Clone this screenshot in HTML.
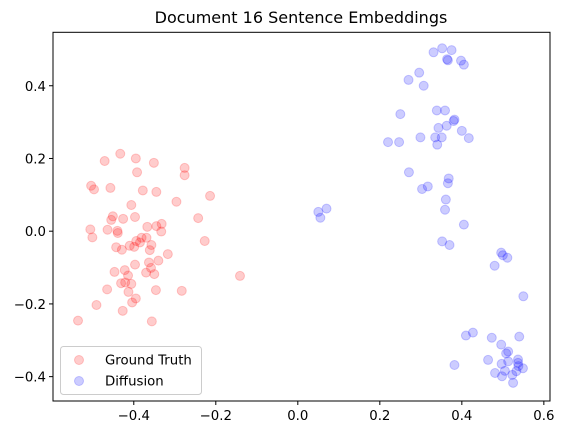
<!DOCTYPE html>
<html><head><meta charset="utf-8"><style>
body{margin:0;background:#fff;}
svg{display:block;font-family:"DejaVu Sans","Liberation Sans",sans-serif;}
</style></head><body>
<svg id="chart" width="567" height="435" viewBox="0 0 567 435">
<text x="301" y="23" text-anchor="middle" font-size="16" fill="#000">Document 16 Sentence Embeddings</text>
<g id="marks"></g>
<g id="axes"></g>
<g>
<rect x="60.5" y="346.5" width="141" height="48" rx="3" fill="#fff" fill-opacity="0.8" stroke="#ccc"/>
<circle cx="79" cy="360" r="4.5" fill="rgba(255,0,0,0.2)" stroke="rgba(255,0,0,0.2)"/>
<text x="105" y="364.5" font-size="13.3">Ground Truth</text>
<circle cx="79" cy="381" r="4.5" fill="rgba(0,0,255,0.2)" stroke="rgba(0,0,255,0.2)"/>
<text x="105" y="385.5" font-size="13.3">Diffusion</text>
</g>
</svg>
<script>
const gtX=[-0.471,-0.433,-0.395,-0.351,-0.276,-0.276,-0.392,-0.504,-0.497,-0.457,-0.378,-0.345,-0.296,-0.214,-0.406,-0.451,-0.455,-0.426,-0.397,-0.243,-0.506,-0.501,-0.464,-0.440,-0.439,-0.367,-0.345,-0.332,-0.333,-0.227,-0.443,-0.429,-0.410,-0.399,-0.394,-0.385,-0.381,-0.369,-0.357,-0.361,-0.317,-0.397,-0.363,-0.340,-0.358,-0.370,-0.350,-0.447,-0.422,-0.414,-0.431,-0.421,-0.406,-0.465,-0.413,-0.346,-0.283,-0.141,-0.395,-0.404,-0.491,-0.427,-0.536,-0.356];
const gtY=[0.193,0.213,0.200,0.188,0.174,0.154,0.162,0.125,0.115,0.119,0.112,0.108,0.081,0.097,0.072,0.041,0.031,0.034,0.039,0.036,0.005,-0.017,0.004,0.001,-0.005,0.012,0.014,0.020,-0.001,-0.027,-0.044,-0.051,-0.040,-0.043,-0.027,-0.031,-0.018,-0.018,-0.038,-0.052,-0.063,-0.092,-0.086,-0.081,-0.101,-0.114,-0.118,-0.112,-0.107,-0.122,-0.143,-0.141,-0.145,-0.160,-0.167,-0.162,-0.164,-0.123,-0.185,-0.196,-0.203,-0.219,-0.246,-0.248];
const dfX=[0.331,0.352,0.375,0.364,0.366,0.398,0.405,0.296,0.270,0.307,0.250,0.339,0.359,0.382,0.380,0.343,0.363,0.400,0.417,0.220,0.247,0.299,0.335,0.351,0.340,0.271,0.368,0.366,0.303,0.317,0.361,0.359,0.405,0.352,0.370,0.496,0.500,0.511,0.480,0.550,0.410,0.427,0.473,0.540,0.496,0.513,0.508,0.382,0.464,0.497,0.513,0.537,0.537,0.538,0.549,0.533,0.481,0.505,0.498,0.523,0.525,0.050,0.055,0.070];
const dfY=[0.492,0.503,0.498,0.473,0.470,0.469,0.458,0.436,0.416,0.400,0.322,0.332,0.332,0.307,0.303,0.284,0.290,0.276,0.256,0.245,0.245,0.258,0.258,0.258,0.238,0.162,0.145,0.132,0.116,0.123,0.087,0.059,0.018,-0.028,-0.038,-0.059,-0.066,-0.073,-0.095,-0.179,-0.287,-0.279,-0.293,-0.290,-0.312,-0.331,-0.336,-0.368,-0.354,-0.365,-0.358,-0.353,-0.362,-0.371,-0.377,-0.385,-0.390,-0.384,-0.399,-0.395,-0.417,0.053,0.037,0.062];
const xTicks=[-0.4,-0.2,0.0,0.2,0.4,0.6];
const xTickLabels=["\u22120.4","\u22120.2","0.0","0.2","0.4","0.6"];
const yTicks=[-0.4,-0.2,0.0,0.2,0.4];
const yTickLabels=["\u22120.4","\u22120.2","0.0","0.2","0.4"];

const NS="http://www.w3.org/2000/svg";
const L=53,R=550,T=32.3,B=401;
const xMin=-0.597,xMax=0.615,yMin=-0.467,yMax=0.547;
function sx(v){return L+(v-xMin)/(xMax-xMin)*(R-L);}
function sy(v){return B-(v-yMin)/(yMax-yMin)*(B-T);}
function mk(tag,attrs,parent){const e=document.createElementNS(NS,tag);for(const k in attrs)e.setAttribute(k,attrs[k]);parent.appendChild(e);return e;}
const marks=document.getElementById('marks');
const axes=document.getElementById('axes');
gtX.forEach((x,i)=>{
  const c=mk('circle',{cx:sx(x),cy:sy(gtY[i]),r:4.5,fill:'rgba(255,0,0,0.2)',stroke:'rgba(255,0,0,0.2)'},marks);
  
  
});
dfX.forEach((x,i)=>{
  const c=mk('circle',{cx:sx(x),cy:sy(dfY[i]),r:4.5,fill:'rgba(0,0,255,0.2)',stroke:'rgba(0,0,255,0.2)'},marks);
  
  
});
const frame=mk('rect',{x:L,y:T,width:R-L,height:B-T,fill:'none',stroke:'#000','stroke-width':1},axes);


xTicks.forEach((t,i)=>{
  const X=sx(t);
  const ln=mk('line',{x1:X,x2:X,y1:B,y2:B+4,stroke:'#000'},axes);
  
  
  const tx=mk('text',{x:X,y:B+19,'text-anchor':'middle','font-size':13.3},axes);
  tx.textContent=xTickLabels[i];
  
  
});
yTicks.forEach((t,i)=>{
  const Y=sy(t);
  const ln=mk('line',{x1:L-4,x2:L,y1:Y,y2:Y,stroke:'#000'},axes);
  
  
  const tx=mk('text',{x:L-7,y:Y+5,'text-anchor':'end','font-size':13.3},axes);
  tx.textContent=yTickLabels[i];
  
  
});
</script>
</body></html>
